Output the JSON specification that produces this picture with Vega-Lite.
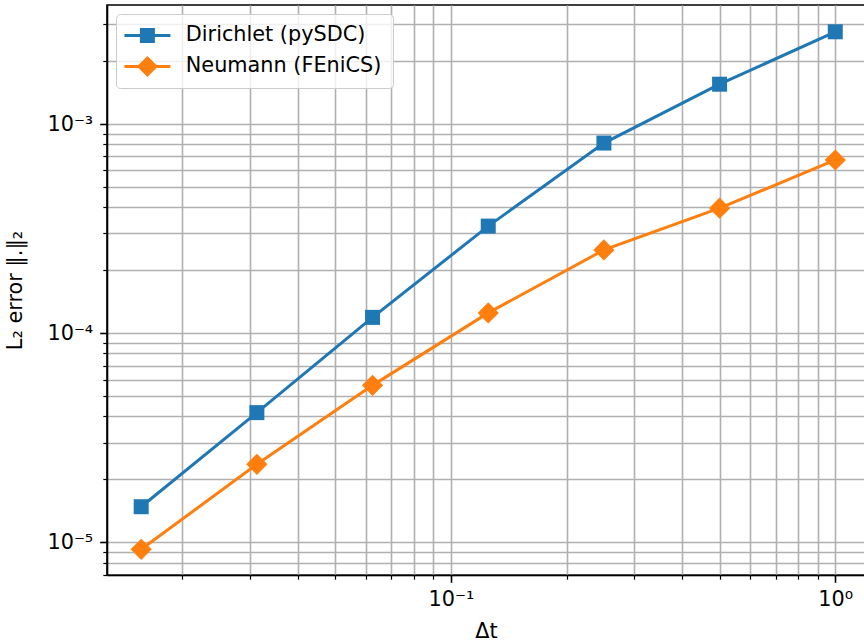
{
  "$schema": "https://vega.github.io/schema/vega-lite/v6.json",
  "autosize": "none",
  "padding": {"left": 107, "top": 5, "right": 0, "bottom": 68},
  "width": 758,
  "height": 570,
  "background": "white",
  "config": {
    "font": "DejaVu Sans",
    "view": {"stroke": "black", "strokeWidth": 1.6},
    "axis": {
      "labelFont": "DejaVu Sans",
      "labelFontSize": 20.8,
      "labelColor": "black",
      "titleFont": "DejaVu Sans",
      "titleFontSize": 20.8,
      "titleFontWeight": "normal",
      "titleColor": "black",
      "domainColor": "black",
      "domainWidth": 1.6,
      "tickColor": "black",
      "gridColor": "#b0b0b0",
      "gridWidth": 1.6,
      "gridOpacity": 1,
      "labelOverlap": false,
      "labelFlush": false,
      "labelPadding": 7
    }
  },
  "data": {
    "values": [
      {"series": "Dirichlet (pySDC)", "dt": 0.015625, "err": 0.0000148},
      {"series": "Dirichlet (pySDC)", "dt": 0.03125, "err": 0.0000417},
      {"series": "Dirichlet (pySDC)", "dt": 0.0625, "err": 0.000119},
      {"series": "Dirichlet (pySDC)", "dt": 0.125, "err": 0.000325},
      {"series": "Dirichlet (pySDC)", "dt": 0.25, "err": 0.000811},
      {"series": "Dirichlet (pySDC)", "dt": 0.5, "err": 0.00155},
      {"series": "Dirichlet (pySDC)", "dt": 1.0, "err": 0.00276},
      {"series": "Neumann (FEniCS)", "dt": 0.015625, "err": 0.00000926},
      {"series": "Neumann (FEniCS)", "dt": 0.03125, "err": 0.0000236},
      {"series": "Neumann (FEniCS)", "dt": 0.0625, "err": 0.0000563},
      {"series": "Neumann (FEniCS)", "dt": 0.125, "err": 0.000125},
      {"series": "Neumann (FEniCS)", "dt": 0.25, "err": 0.00025},
      {"series": "Neumann (FEniCS)", "dt": 0.5, "err": 0.000396},
      {"series": "Neumann (FEniCS)", "dt": 1.0, "err": 0.000673}
    ]
  },
  "encoding": {
    "x": {
      "field": "dt",
      "type": "quantitative",
      "title": "Δt",
      "scale": {"type": "log", "domain": [0.01273, 1.195], "nice": false, "zero": false},
      "axis": {
        "values": [0.02, 0.03, 0.04, 0.05, 0.06, 0.07, 0.08, 0.09, 0.1, 0.2, 0.3, 0.4, 0.5, 0.6, 0.7, 0.8, 0.9, 1],
        "labelExpr": "datum.value == 0.1 ? '10⁻¹' : (datum.value == 1 ? '10⁰' : '')",
        "tickSize": {"condition": {"test": "datum.value == 0.1 || datum.value == 1", "value": 7.3}, "value": 4.2},
        "tickWidth": {"condition": {"test": "datum.value == 0.1 || datum.value == 1", "value": 1.6}, "value": 1.2},
        "titlePadding": 12
      }
    },
    "y": {
      "field": "err",
      "type": "quantitative",
      "title": "L₂ error ‖.‖₂",
      "scale": {"type": "log", "domain": [0.00000698, 0.003707], "nice": false, "zero": false},
      "axis": {
        "values": [0.000007, 0.000008, 0.000009, 0.00001, 0.00002, 0.00003, 0.00004, 0.00005, 0.00006, 0.00007, 0.00008, 0.00009, 0.0001, 0.0002, 0.0003, 0.0004, 0.0005, 0.0006, 0.0007, 0.0008, 0.0009, 0.001, 0.002, 0.003],
        "labelExpr": "datum.value == 0.00001 ? '10⁻⁵' : (datum.value == 0.0001 ? '10⁻⁴' : (datum.value == 0.001 ? '10⁻³' : ''))",
        "tickSize": {"condition": {"test": "datum.value == 0.00001 || datum.value == 0.0001 || datum.value == 0.001", "value": 7.3}, "value": 4.2},
        "tickWidth": {"condition": {"test": "datum.value == 0.00001 || datum.value == 0.0001 || datum.value == 0.001", "value": 1.6}, "value": 1.2},
        "titlePadding": 21
      }
    }
  },
  "layer": [
    {
      "transform": [{"filter": "datum.series == 'Dirichlet (pySDC)'"}],
      "mark": {"type": "line", "strokeWidth": 3, "color": "#1f77b4"},
      "encoding": {}
    },
    {
      "transform": [{"filter": "datum.series == 'Neumann (FEniCS)'"}],
      "mark": {"type": "line", "strokeWidth": 3, "color": "#ff7f0e"},
      "encoding": {}
    },
    {
      "transform": [{"filter": "datum.series == 'Dirichlet (pySDC)'"}],
      "mark": {"type": "point", "filled": true, "opacity": 1, "size": 225, "shape": "M-1,-1H1V1H-1Z", "color": "#1f77b4"},
      "encoding": {}
    },
    {
      "transform": [{"filter": "datum.series == 'Neumann (FEniCS)'"}],
      "mark": {"type": "point", "filled": true, "opacity": 1, "size": 225, "shape": "M-1.414,0L0,-1.414L1.414,0L0,1.414Z", "color": "#ff7f0e"},
      "encoding": {}
    },
    {
      "transform": [{"filter": "datum.dt < 0"}],
      "mark": {"type": "point", "filled": true, "opacity": 1, "size": 100},
      "encoding": {
        "color": {
          "field": "series",
          "type": "nominal",
          "scale": {"domain": ["Dirichlet (pySDC)", "Neumann (FEniCS)"], "range": ["#1f77b4", "#ff7f0e"]},
          "legend": {
            "title": null,
            "orient": "top-left",
            "offset": 9,
            "padding": 11,
            "labelFont": "DejaVu Sans",
            "labelFontSize": 20.8,
            "labelColor": "black",
            "labelLimit": 400,
            "symbolSize": 100,
            "symbolOffset": 10,
            "labelOffset": 28,
            "rowPadding": 9,
            "strokeColor": "#cccccc",
            "fillColor": "rgba(255,255,255,0.8)",
            "cornerRadius": 4
          }
        },
        "shape": {
          "field": "series",
          "type": "nominal",
          "scale": {"domain": ["Dirichlet (pySDC)", "Neumann (FEniCS)"], "range": ["M-4.6,-0.3H4.6V0.3H-4.6Z M-1.5,-1.5H1.5V1.5H-1.5Z", "M-4.6,-0.3H4.6V0.3H-4.6Z M-2.1,0L0,-2.1L2.1,0L0,2.1Z"]},
          "legend": {
            "title": null,
            "orient": "top-left",
            "offset": 9,
            "padding": 11,
            "labelFont": "DejaVu Sans",
            "labelFontSize": 20.8,
            "labelColor": "black",
            "labelLimit": 400,
            "symbolSize": 100,
            "symbolOffset": 10,
            "labelOffset": 28,
            "rowPadding": 9,
            "strokeColor": "#cccccc",
            "fillColor": "rgba(255,255,255,0.8)",
            "cornerRadius": 4
          }
        }
      }
    }
  ]
}
